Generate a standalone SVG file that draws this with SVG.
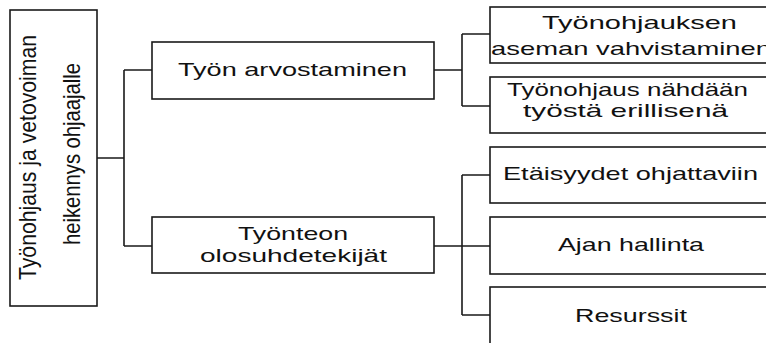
<svg xmlns="http://www.w3.org/2000/svg" width="766" height="343" viewBox="0 0 766 343">
<style>
.box{fill:#fff;stroke:#1a1a1a;stroke-width:1.6}
.ln{fill:none;stroke:#1a1a1a;stroke-width:1.6}
.t{font-family:"Liberation Sans",Arial,sans-serif;font-size:19px;fill:#111;text-anchor:middle}
.r{font-family:"Liberation Sans",Arial,sans-serif;font-size:24px;fill:#111;text-anchor:middle}
</style>
<rect width="766" height="343" fill="#fff"/>
<g id="connectors">
<path class="ln" d="M97,158 H124 M124,70 V246 M124,70 H152 M124,246 H152"/>
<path class="ln" d="M434,70 H462 M462,34 V106 M462,34 H490 M462,106 H490"/>
<path class="ln" d="M434,246 H462 M462,175 V315 M462,175 H490 M462,246 H490 M462,315 H490"/>
</g>
<g id="root">
<rect class="box" x="10" y="10" width="87" height="296"/>
<text class="r" transform="translate(36,157.5) rotate(-90)" textLength="245" lengthAdjust="spacingAndGlyphs">Työnohjaus ja vetovoiman</text>
<text class="r" transform="translate(80,154) rotate(-90)" textLength="182" lengthAdjust="spacingAndGlyphs">heikennys ohjaajalle</text>
</g>
<g id="tyon-arvostaminen">
<rect class="box" x="152" y="42" width="282" height="57"/>
<text class="t" x="292.5" y="76" textLength="229" lengthAdjust="spacingAndGlyphs">Työn arvostaminen</text>
</g>
<g id="tyonteon-olosuhdetekijat">
<rect class="box" x="152" y="217" width="282" height="56"/>
<text class="t" x="293" y="240" textLength="110" lengthAdjust="spacingAndGlyphs">Työnteon</text>
<text class="t" x="293.5" y="262" textLength="187" lengthAdjust="spacingAndGlyphs">olosuhdetekijät</text>
</g>
<g id="aseman-vahvistaminen">
<rect class="box" x="490" y="7" width="300" height="56"/>
<text class="t" x="639.5" y="29" textLength="195" lengthAdjust="spacingAndGlyphs">Työnohjauksen</text>
<text class="t" x="631" y="55" textLength="280" lengthAdjust="spacingAndGlyphs">aseman vahvistaminen</text>
</g>
<g id="erillisena">
<rect class="box" x="490" y="77" width="300" height="56"/>
<text class="t" x="627.5" y="96" textLength="241" lengthAdjust="spacingAndGlyphs">Työnohjaus nähdään</text>
<text class="t" x="625.5" y="117" textLength="205" lengthAdjust="spacingAndGlyphs">työstä erillisenä</text>
</g>
<g id="etaisyydet">
<rect class="box" x="490" y="147" width="300" height="56"/>
<text class="t" x="630.5" y="180" textLength="255" lengthAdjust="spacingAndGlyphs">Etäisyydet ohjattaviin</text>
</g>
<g id="ajan-hallinta">
<rect class="box" x="490" y="217" width="300" height="57"/>
<text class="t" x="631" y="251" textLength="146" lengthAdjust="spacingAndGlyphs">Ajan hallinta</text>
</g>
<g id="resurssit">
<rect class="box" x="490" y="287" width="300" height="80"/>
<text class="t" x="631" y="322" textLength="112" lengthAdjust="spacingAndGlyphs">Resurssit</text>
</g>
</svg>
